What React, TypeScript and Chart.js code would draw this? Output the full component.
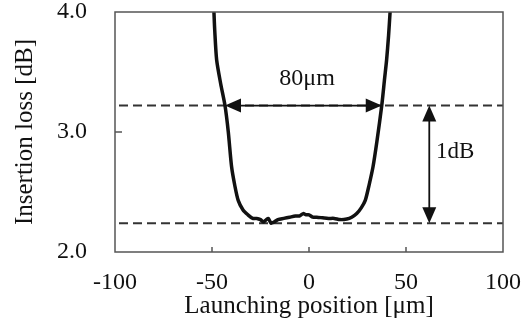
import React, { useEffect, useRef } from "react";
import { Chart, registerables } from "chart.js";

Chart.register(...registerables);

// Launching position [µm] and insertion loss [dB]
const positions = [
  -49, -48.6, -47.6, -45.5, -43.3, -41.6, -39.9, -38.2, -36.5, -34, -31.5, -29, -27, -25, -23.5, -22, -21,
  -19.5, -18, -16, -13, -10, -7, -5, -3, -1.5, 0, 2, 4, 7, 10, 13, 16, 19.5, 22, 24.6, 27, 29, 31, 33, 35,
  37.5, 39, 40, 41, 41.8,
];
const losses = [
  4.0, 3.85, 3.6, 3.4, 3.22, 3.0, 2.71, 2.55, 2.43, 2.35, 2.31, 2.28, 2.28, 2.27, 2.25, 2.27, 2.28,
  2.24, 2.25, 2.27, 2.28, 2.29, 2.3, 2.3, 2.32, 2.31, 2.31, 2.29, 2.29, 2.285, 2.28, 2.28, 2.27, 2.275,
  2.29, 2.32, 2.37, 2.43, 2.56, 2.71, 2.92, 3.22, 3.45, 3.6, 3.8, 4.0,
];

const xRange = [-100, 100];
const yRange = [2, 4];
const xTicks = [-100, -50, 0, 50, 100];
const yTicks = [2, 3, 4];
const refLevels = [3.22, 2.24];

const widthArrow = { y: 3.22, from: -43.3, to: 37.5 };
const dbArrow = { x: 62, from: 3.22, to: 2.24 };
const widthLabel = { x: -1, y: 3.44, text: "80μm" };
const dbLabel = { x: 65.5, y: 2.83, text: "1dB" };

const FONT = "'Liberation Serif', 'Times New Roman', serif";

function arrowHead(ctx: CanvasRenderingContext2D, tx: number, ty: number, dx: number, dy: number) {
  const len = 16;
  const half = 7;
  const px = -dy;
  const py = dx;
  ctx.beginPath();
  ctx.moveTo(tx, ty);
  ctx.lineTo(tx - dx * len + px * half, ty - dy * len + py * half);
  ctx.lineTo(tx - dx * len - px * half, ty - dy * len - py * half);
  ctx.closePath();
  ctx.fill();
}

const decor = {
  id: "decor",
  afterDatasetsDraw(chart: any) {
    const { ctx, chartArea } = chart;
    const xs = chart.scales.x;
    const ys = chart.scales.y;
    ctx.save();
    // frame
    ctx.strokeStyle = "#555";
    ctx.lineWidth = 1.5;
    ctx.strokeRect(chartArea.left, chartArea.top, chartArea.right - chartArea.left, chartArea.bottom - chartArea.top);
    // inner tick marks
    ctx.beginPath();
    xTicks.slice(1, -1).forEach((v) => {
      const px = xs.getPixelForValue(v);
      ctx.moveTo(px, chartArea.bottom);
      ctx.lineTo(px, chartArea.bottom - 5);
    });
    yTicks.slice(1, -1).forEach((v) => {
      const py = ys.getPixelForValue(v);
      ctx.moveTo(chartArea.left, py);
      ctx.lineTo(chartArea.left + 7, py);
    });
    ctx.stroke();

    // horizontal double arrow
    ctx.strokeStyle = "#111";
    ctx.fillStyle = "#111";
    ctx.lineWidth = 1.8;
    const hy = ys.getPixelForValue(widthArrow.y);
    const hx1 = xs.getPixelForValue(widthArrow.from);
    const hx2 = xs.getPixelForValue(widthArrow.to);
    ctx.beginPath();
    ctx.moveTo(hx1 + 10, hy);
    ctx.lineTo(hx2 - 10, hy);
    ctx.stroke();
    arrowHead(ctx, hx1, hy, -1, 0);
    arrowHead(ctx, hx2, hy, 1, 0);

    // vertical double arrow
    const vx = xs.getPixelForValue(dbArrow.x);
    const vy1 = ys.getPixelForValue(dbArrow.from);
    const vy2 = ys.getPixelForValue(dbArrow.to);
    ctx.beginPath();
    ctx.moveTo(vx, vy1 + 10);
    ctx.lineTo(vx, vy2 - 10);
    ctx.stroke();
    arrowHead(ctx, vx, vy1, 0, -1);
    arrowHead(ctx, vx, vy2, 0, 1);

    // labels
    ctx.font = `24px ${FONT}`;
    ctx.textBaseline = "middle";
    ctx.textAlign = "center";
    ctx.fillText(widthLabel.text, xs.getPixelForValue(widthLabel.x), ys.getPixelForValue(widthLabel.y));
    ctx.font = `23px ${FONT}`;
    ctx.textAlign = "left";
    ctx.fillText(dbLabel.text, xs.getPixelForValue(dbLabel.x), ys.getPixelForValue(dbLabel.y));
    ctx.restore();
  },
};

export default function App() {
  const ref = useRef<HTMLCanvasElement>(null);
  useEffect(() => {
    if (!ref.current) return;
    const chart = new Chart(ref.current, {
      type: "line",
      data: {
        datasets: [
          {
            data: positions.map((x, i) => ({ x, y: losses[i] })),
            borderColor: "#111",
            borderWidth: 3.5,
            pointRadius: 0,
            tension: 0.25,
            clip: 0,
            order: 0,
          } as any,
          ...refLevels.map((lv) => ({
            data: [
              { x: xRange[0], y: lv },
              { x: xRange[1], y: lv },
            ],
            borderColor: "#333",
            borderWidth: 2,
            borderDash: [9, 5],
            borderDashOffset: -4,
            pointRadius: 0,
            order: 1,
          })),
        ],
      },
      options: {
        animation: false,
        responsive: false,
        maintainAspectRatio: false,
        layout: { padding: { top: 12, right: 29, left: 0, bottom: 0 } },
        plugins: { legend: { display: false }, tooltip: { enabled: false } },
        scales: {
          x: {
            type: "linear",
            min: xRange[0],
            max: xRange[1],
            afterFit: (s: any) => {
              s.height = 73;
              s.paddingLeft = 0;
              s.paddingRight = 0;
            },
            afterBuildTicks: (s: any) => {
              s.ticks = xTicks.map((v) => ({ value: v }));
            },
            grid: { display: false, drawTicks: false },
            border: { display: false },
            ticks: {
              padding: 16,
              color: "#111",
              font: { family: FONT, size: 24 },
              callback: (v: any) => String(v),
              maxRotation: 0,
            },
            title: {
              display: true,
              text: "Launching position [μm]",
              color: "#111",
              font: { family: FONT, size: 25 },
              padding: { top: 0, bottom: 4 },
            },
          },
          y: {
            type: "linear",
            min: yRange[0],
            max: yRange[1],
            afterFit: (s: any) => {
              s.width = 115;
              s.paddingTop = 0;
              s.paddingBottom = 0;
            },
            afterBuildTicks: (s: any) => {
              s.ticks = yTicks.map((v) => ({ value: v }));
            },
            grid: { display: false, drawTicks: false },
            border: { display: false },
            ticks: {
              padding: 28,
              color: "#111",
              font: { family: FONT, size: 24 },
              callback: (v: any) => Number(v).toFixed(1),
            },
            title: {
              display: true,
              text: "Insertion loss [dB]",
              color: "#111",
              font: { family: FONT, size: 25 },
              padding: { top: 10, bottom: 0 },
            },
          },
        },
      },
      plugins: [decor],
    });
    return () => chart.destroy();
  }, []);
  return (
    <div style={{ position: "absolute", left: 0, top: 0, width: 532, height: 325, background: "#fff" }}>
      <canvas ref={ref} width={532} height={325} style={{ width: 532, height: 325 }} />
    </div>
  );
}
